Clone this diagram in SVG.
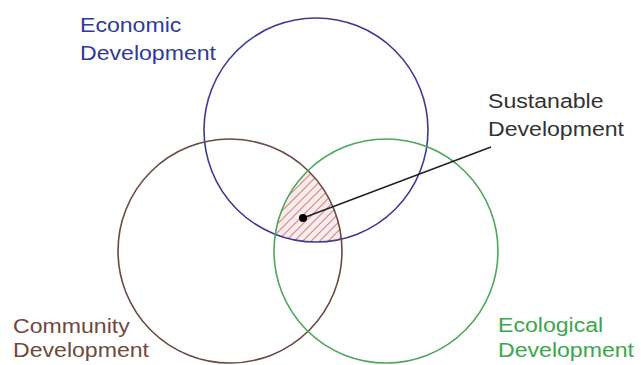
<svg xmlns="http://www.w3.org/2000/svg" width="641" height="365" viewBox="0 0 641 365">
<style>
.lbl{font-family:"Liberation Sans",Arial,sans-serif;font-size:21px}
.ring{fill:none;stroke-width:1.6}
</style>
<defs>
<pattern id="hatch" patternUnits="userSpaceOnUse" width="6" height="6" patternTransform="rotate(45)">
<rect width="6" height="6" fill="#fbecec"/>
<line x1="0" y1="0" x2="0" y2="6" stroke="#b85050" stroke-width="1.4"/>
</pattern>
</defs>
<rect width="641" height="365" fill="#ffffff"/>
<g id="sustainable-region">
<path d="M308,170.6 A112,112 0 0 0 275.3,234.3 A112,112 0 0 0 341.4,239.1 A112,112 0 0 0 308,170.6 Z" fill="url(#hatch)" stroke="none"/>
</g>
<g id="economic">
<circle class="ring" cx="316" cy="130" r="112" stroke="#3b3b96"/>
<g transform="translate(80,0) scale(1.1,1)">
<text class="lbl" fill="#2f3a9a" x="0" y="32">Economic</text>
<text class="lbl" fill="#2f3a9a" x="0" y="60">Development</text>
</g>
</g>
<g id="community">
<circle class="ring" cx="230" cy="251" r="112" stroke="#6a4a40"/>
<g transform="translate(13,0) scale(1.1,1)">
<text class="lbl" fill="#70483c" x="0" y="333">Community</text>
<text class="lbl" fill="#70483c" x="0" y="357">Development</text>
</g>
</g>
<g id="ecological">
<circle class="ring" cx="386" cy="251" r="112" stroke="#4aa85a"/>
<g transform="translate(498,0) scale(1.1,1)">
<text class="lbl" fill="#3aa84a" x="0" y="332">Ecological</text>
<text class="lbl" fill="#3aa84a" x="0" y="357">Development</text>
</g>
</g>
<g id="sustainable">
<g transform="translate(488,0) scale(1.1,1)">
<text class="lbl" fill="#333333" x="0" y="108">Sustanable</text>
<text class="lbl" fill="#333333" x="0" y="136">Development</text>
</g>
</g>
<g id="connectors">
<line x1="303" y1="218" x2="491" y2="147" stroke="#222222" stroke-width="1.5"/>
<circle cx="303" cy="218" r="4" fill="#000000"/>
</g>
</svg>
